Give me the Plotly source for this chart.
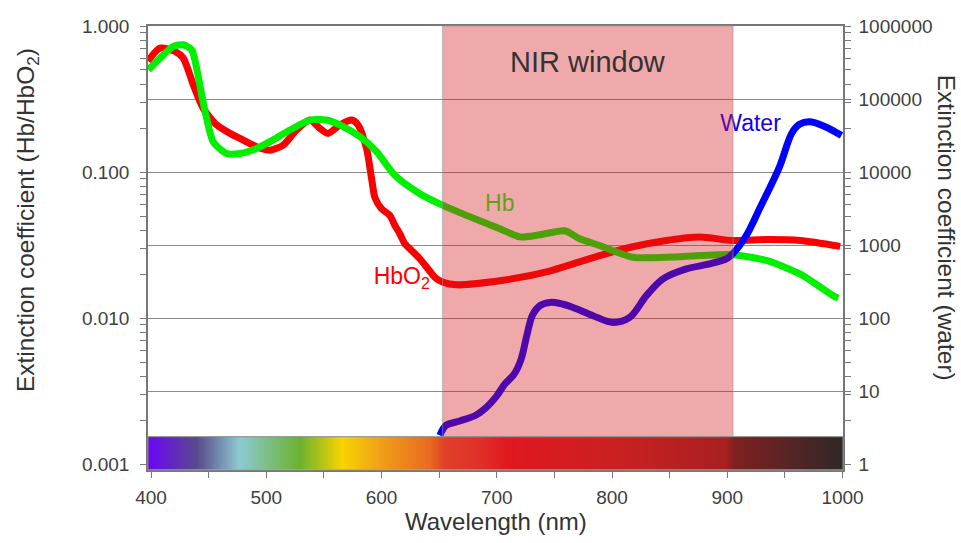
import numpy as np
import plotly.graph_objects as go

# ---------------- data ----------------
hbo2_nm = [397.4, 407.8, 420.8, 428.0, 436.7, 445.3, 457.0, 468.5, 477.2, 491.6, 503.2, 514.7,
           526.3, 537.9, 546.5, 553.7, 563.9, 574.0, 579.7, 587.0, 591.4, 594.2, 600.0, 607.2,
           611.6, 615.9, 620.2, 626.0, 633.2, 640.4, 646.3, 653.4, 665.1, 702.6, 745.9, 789.3,
           818.0, 847.2, 876.3, 904.6, 933.9, 963.4, 998.0]
hbo2_val = [0.575, 0.706, 0.670, 0.603, 0.395, 0.273, 0.210, 0.184, 0.170, 0.149, 0.141, 0.153,
            0.194, 0.227, 0.199, 0.184, 0.210, 0.227, 0.210, 0.145, 0.0902, 0.0671, 0.0561, 0.0505,
            0.0431, 0.0378, 0.0323, 0.0291, 0.0255, 0.0217, 0.0190, 0.0176, 0.0169, 0.0180, 0.0210, 0.0268,
            0.0308, 0.0340, 0.0359, 0.0340, 0.0345, 0.0340, 0.0310]

hb_nm = [397.7, 407.8, 419.3, 428.0, 435.3, 439.6, 444.0, 448.3, 454.0, 465.6, 477.2, 491.6,
         506.0, 520.5, 537.9, 552.3, 566.7, 581.2, 595.7, 611.6, 633.2, 653.4, 673.7, 702.6,
         720.0, 737.3, 759.0, 772.0, 789.3, 818.0, 847.2, 876.3, 904.6, 933.9, 963.4, 992.0, 996.3]
hb_val = [0.501, 0.603, 0.725, 0.744, 0.687, 0.514, 0.337, 0.233, 0.161, 0.134, 0.134, 0.145,
          0.166, 0.194, 0.227, 0.227, 0.205, 0.175, 0.138, 0.095, 0.0711, 0.0591, 0.0505, 0.0409,
          0.0360, 0.0372, 0.0396, 0.0349, 0.0314, 0.0261, 0.0261, 0.0268, 0.0272, 0.0248, 0.0200, 0.0142, 0.0137]

water_nm = [650.6, 656.0, 667.9, 681.0, 690.0, 699.8, 707.0, 715.0, 721.0, 726.0, 731.0, 738.0,
            746.0, 754.0, 766.2, 783.5, 800.9, 815.3, 829.8, 844.2, 864.5, 884.7, 899.2, 904.6,
            916.5, 928.0, 945.4, 955.8, 962.7, 971.4, 984.4, 999.1]
water_val = [2.47, 3.4, 3.9, 4.6, 5.8, 8.55, 12.5, 17.0, 27.0, 57.0, 110, 150,
             164, 160, 140, 108, 87, 102, 203, 344, 472, 552, 647, 758,
             1352, 3148, 11900, 33800, 45000, 48700, 42200, 31800]

nir_window = [653, 905]

spectrum_nm = [400, 440, 477, 529, 566, 599, 642, 655, 685, 711, 800, 899, 906, 1000]
spectrum_colors = ["#6a0af0", "#594a8a", "#8ccad2", "#6ab22e", "#f8d400", "#f0a018", "#e86a20",
                   "#e04028", "#e03028", "#e01820", "#cc2020", "#a82020", "#802020", "#302828"]

x_ticks = [400, 500, 600, 700, 800, 900, 1000]
x_minor = [450, 550, 650, 750, 850, 950]
left_ticks = [0.001, 0.01, 0.1, 1]
left_labels = ["0.001", "0.010", "0.100", "1.000"]
right_ticks = [1, 10, 100, 1000, 10000, 100000, 1000000]
right_labels = ["1", "10", "100", "1000", "10000", "100000", "1000000"]

# ---------------- figure ----------------
FONT = "Liberation Sans, Arial, sans-serif"
TICKC = "#404040"
AXC = "#777777"
SMOOTH = 0.7

left_minor = [k * 10.0 ** e for e in (-3, -2, -1) for k in range(2, 10)]
right_minor = [1e6 * v * v for v in left_minor]

fig = go.Figure()

fig.add_trace(go.Scatter(x=hbo2_nm, y=hbo2_val, mode="lines",
                         line=dict(color="rgb(250,0,0)", width=7, shape="spline", smoothing=SMOOTH),
                         hoverinfo="skip", showlegend=False))
fig.add_trace(go.Scatter(x=hb_nm, y=hb_val, mode="lines",
                         line=dict(color="rgb(0,240,0)", width=7, shape="spline", smoothing=SMOOTH),
                         hoverinfo="skip", showlegend=False))
fig.add_trace(go.Scatter(x=water_nm, y=water_val, mode="lines", yaxis="y2",
                         line=dict(color="rgb(0,0,255)", width=7, shape="spline", smoothing=0.9),
                         hoverinfo="skip", showlegend=False))

# curve labels (as text traces so the window tint covers them like the curves)
fig.add_trace(go.Scatter(x=[702.6], y=[0.0589], mode="text", text=["Hb"],
                         textfont=dict(family=FONT, size=23, color="rgb(20,245,20)"),
                         hoverinfo="skip", showlegend=False))
fig.add_trace(go.Scatter(x=[617.6], y=[0.0188], mode="text", text=["HbO<sub>2</sub>"],
                         textfont=dict(family=FONT, size=23, color="rgb(250,0,0)"),
                         hoverinfo="skip", showlegend=False))
fig.add_trace(go.Scatter(x=[920.2], y=[0.209], mode="text", text=["Water"],
                         textfont=dict(family=FONT, size=23, color="rgb(20,0,240)"),
                         hoverinfo="skip", showlegend=False))

# spectrum colour bar
zmin, zmax = spectrum_nm[0], spectrum_nm[-1]
cscale = [[(n - zmin) / (zmax - zmin), c] for n, c in zip(spectrum_nm, spectrum_colors)]
bar_x = np.linspace(397.4, 1000.4, 604)
fig.add_trace(go.Heatmap(x=bar_x, y=[0, 0.075], z=[bar_x], yaxis="y3",
                         colorscale=cscale, zmin=zmin, zmax=zmax, showscale=False,
                         hoverinfo="skip"))

fig.update_layout(
    width=961, height=543,
    margin=dict(l=148, r=117.5, t=26, b=73),
    paper_bgcolor="white", plot_bgcolor="white",
    font=dict(family=FONT, color=TICKC),
    xaxis=dict(range=[397.4, 1000.4], tickvals=x_ticks, ticks="outside", ticklen=6,
               tickcolor=AXC, tickfont=dict(size=19, color=TICKC), ticklabelstandoff=3,
               minor=dict(tickvals=x_minor, ticks="outside", ticklen=6, tickcolor=AXC),
               showline=True, linecolor=AXC, linewidth=1.5, mirror=True,
               showgrid=False, zeroline=False),
    yaxis=dict(type="log", range=[-3.04, 0], tickvals=left_ticks, ticktext=left_labels,
               ticks="outside", ticklen=6, tickcolor=AXC, ticklabelstandoff=7,
               tickfont=dict(size=19, color=TICKC),
               minor=dict(tickvals=left_minor, ticks="outside", ticklen=6, tickcolor=AXC,
                          showgrid=False),
               showline=True, linecolor=AXC, linewidth=1.5, showgrid=False, zeroline=False),
    yaxis2=dict(type="log", range=[-0.08, 6], overlaying="y", side="right",
                tickvals=right_ticks, ticktext=right_labels,
                ticks="outside", ticklen=6, tickcolor=AXC, ticklabelstandoff=4,
                tickfont=dict(size=19, color=TICKC),
                minor=dict(tickvals=right_minor, ticks="outside", ticklen=6, tickcolor=AXC,
                           showgrid=False),
                showline=True, linecolor=AXC, linewidth=1.5,
                showgrid=True, gridcolor="#8c8c8c", gridwidth=1, zeroline=False),
    yaxis3=dict(range=[0, 1], overlaying="y", visible=False, fixedrange=True),
    shapes=[
        dict(type="rect", xref="x", yref="paper", x0=nir_window[0], x1=nir_window[1],
             y0=0.075, y1=1, fillcolor="rgba(214,21,27,0.37)",
             line=dict(color="rgba(150,150,150,0.6)", width=1), layer="above"),
        dict(type="rect", xref="paper", yref="paper", x0=0, x1=1, y0=0, y1=0.075,
             fillcolor="rgba(0,0,0,0)", line=dict(color="#8c8c8c", width=1), layer="above"),
    ],
    annotations=[
        dict(text="NIR window", x=(nir_window[0] + nir_window[1]) / 2, xref="x",
             y=0.919, yref="paper", showarrow=False, xanchor="center", yanchor="middle",
             font=dict(family=FONT, size=29, color="#333333")),
        dict(text="Extinction coefficient (Hb/HbO<sub>2</sub>)", xref="paper", yref="paper",
             x=-0.174, y=0.563, textangle=-90, showarrow=False,
             xanchor="center", yanchor="middle",
             font=dict(family=FONT, size=24.5, color="#333333")),
        dict(text="Extinction coefficient (water)", xref="paper", yref="paper",
             x=1.150, y=0.545, textangle=90, showarrow=False,
             xanchor="center", yanchor="middle",
             font=dict(family=FONT, size=24.5, color="#333333")),
        dict(text="Wavelength (nm)", xref="paper", yref="paper",
             x=0.501, y=-0.117, showarrow=False, xanchor="center", yanchor="middle",
             font=dict(family=FONT, size=24, color="#333333")),
    ],
)

fig.write_html("out.html")
